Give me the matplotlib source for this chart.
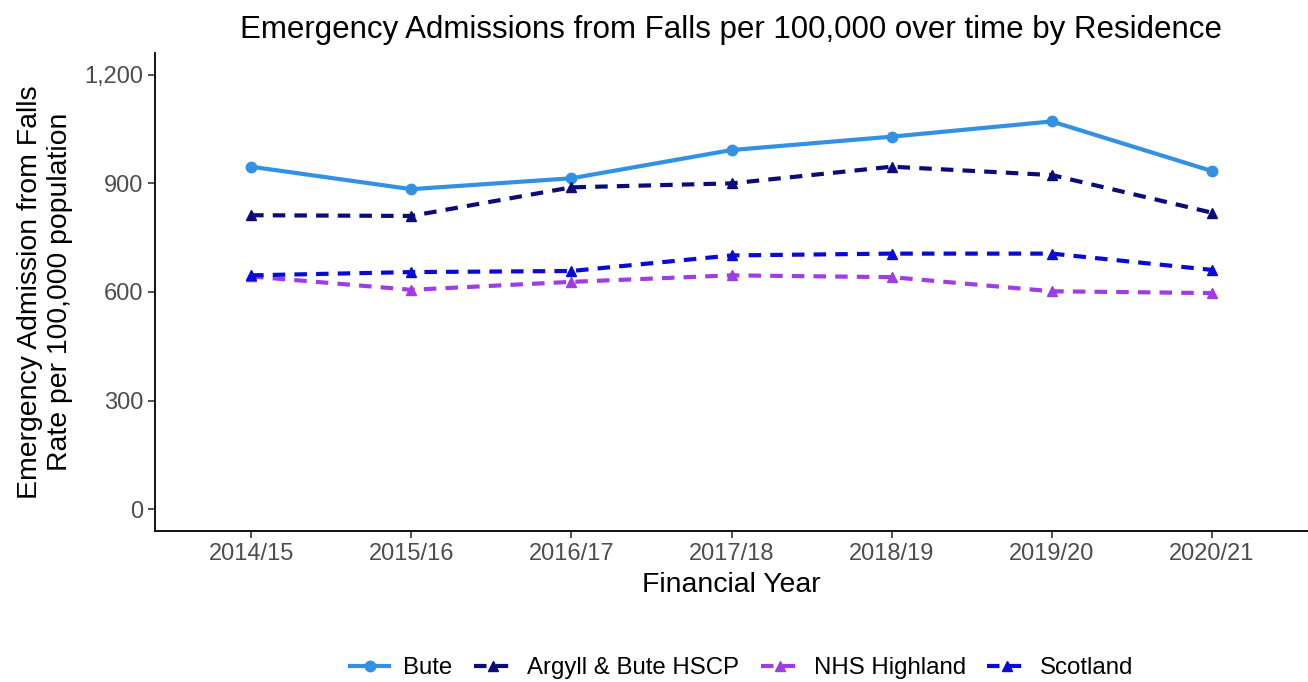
import matplotlib.pyplot as plt
from matplotlib.ticker import FuncFormatter

plt.rcParams['font.family'] = ['Liberation Sans', 'DejaVu Sans']

years = ['2014/15', '2015/16', '2016/17', '2017/18', '2018/19', '2019/20', '2020/21']
bute = [946, 884, 914, 992, 1029, 1071, 934]
argyll = [812, 810, 889, 900, 946, 923, 819]
highland = [643, 606, 628, 646, 641, 602, 597]
scotland = [646, 655, 658, 701, 706, 706, 661]

series = [
    ('Bute', bute, '#3391E3', '-', 'o'),
    ('Argyll & Bute HSCP', argyll, '#0B0B7A', '--', '^'),
    ('NHS Highland', highland, '#A03CE6', '--', '^'),
    ('Scotland', scotland, '#0A0AD8', '--', '^'),
]

W, H = 1308, 682
fig = plt.figure(figsize=(W / 100, H / 100), dpi=100)
ax = fig.add_axes([155 / W, 1 - 531 / H, 1 - 155 / W, (531 - 53) / H])

x = list(range(len(years)))
for name, vals, col, ls, mk in series:
    ax.plot(x, vals, color=col, linestyle=ls, marker=mk, lw=3, ms=7.5,
            dashes=(3, 2.2) if ls == '--' else (None, None), label=name)

ax.set_xlim(-0.6, len(years) - 0.4)
ax.set_ylim(-60, 1260)
ax.set_xticks(x)
ax.set_xticklabels(years)
ax.set_yticks([0, 300, 600, 900, 1200])
ax.yaxis.set_major_formatter(FuncFormatter(lambda v, p: f'{int(v):,}'))
ax.tick_params(labelsize=17, colors='#333333', labelcolor='#4D4D4D', length=5, width=1.2)
for s in ['top', 'right']:
    ax.spines[s].set_visible(False)
for s in ['left', 'bottom']:
    ax.spines[s].set_linewidth(1.3)

cx = (155 + W) / 2 / W
fig.text(cx, 1 - 30 / H, 'Emergency Admissions from Falls per 100,000 over time by Residence',
         fontsize=22.5, ha='center', va='center')
fig.text(cx, 1 - 585 / H, 'Financial Year', fontsize=20.4, ha='center', va='center')
fig.text(73 / W, 1 - 292 / H, 'Emergency Admission from Falls\nRate per 100,000 population',
         fontsize=20.4, rotation=90, ha='right', va='center', multialignment='center')

fig.legend(loc='center', bbox_to_anchor=(742 / W, 1 - 668 / H), ncol=4, frameon=False,
           fontsize=17.3, handlelength=1.6, handletextpad=0.6, columnspacing=0.9)

fig.savefig('out.png', dpi=100)
